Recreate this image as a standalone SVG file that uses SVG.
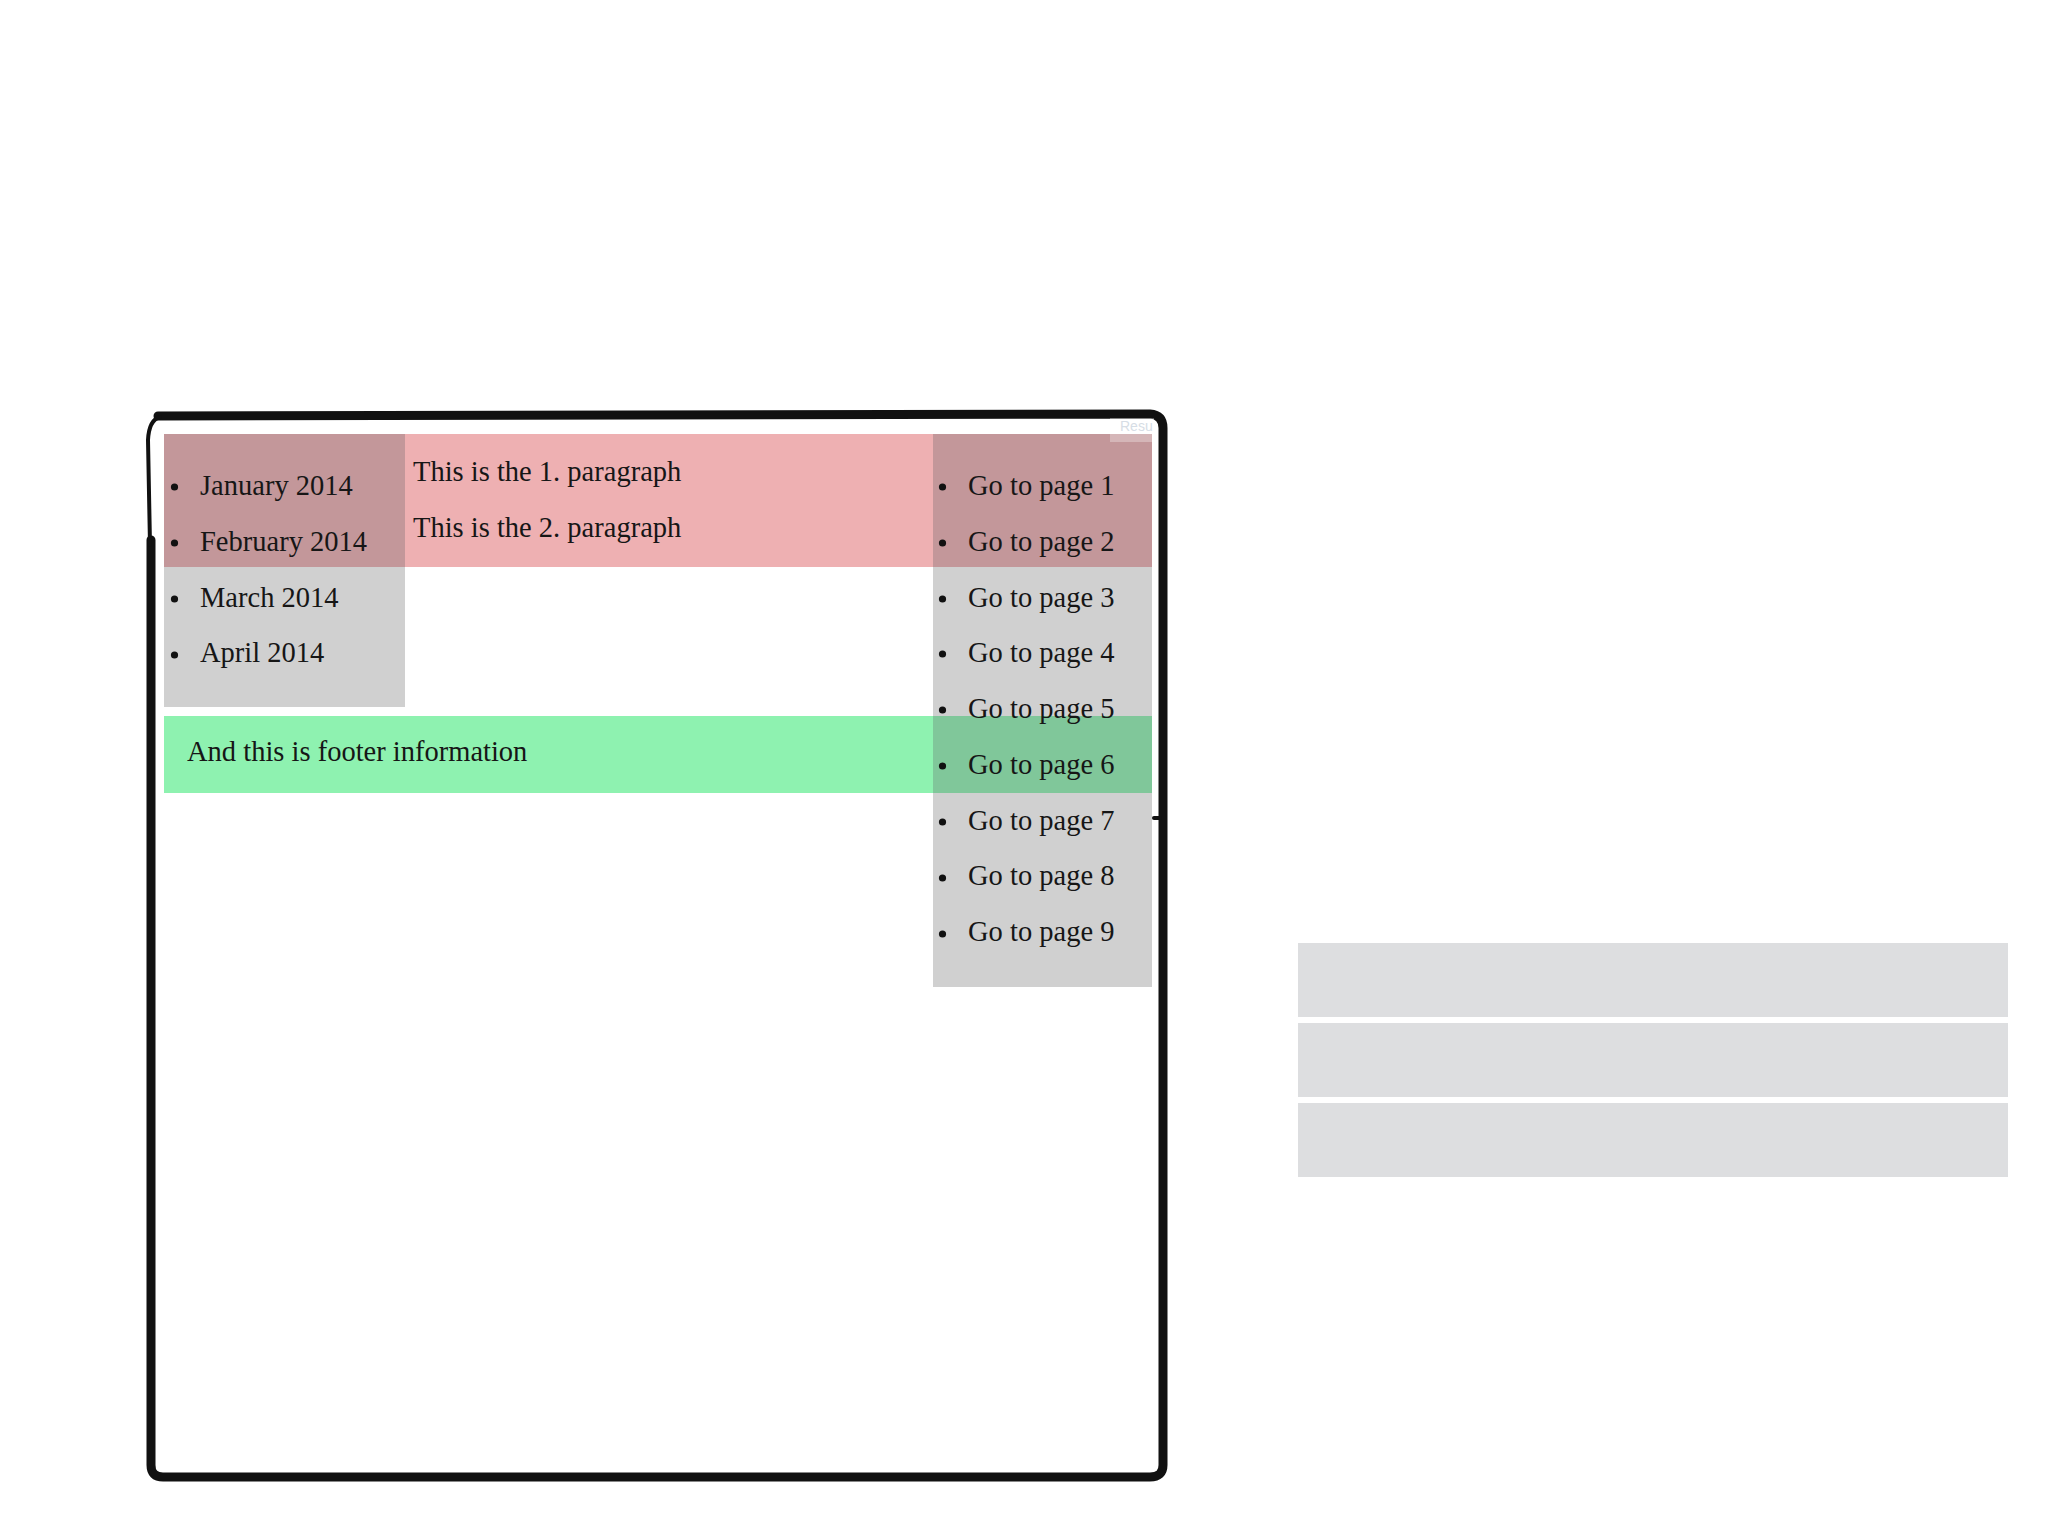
<svg xmlns="http://www.w3.org/2000/svg" width="2048" height="1536" viewBox="0 0 2048 1536">
<style>
.t{font-family:"Liberation Serif","Times New Roman",serif;font-size:28.5px;fill:#161616}
.pink{fill:#EEB0B2}
.gray{fill:#D0D0D0}
.dpink{fill:#C3979A}
.green{fill:#8EF2B0}
.dgreen{fill:#80C79A}
.bar{fill:#DDDEE0}
.frame{fill:none;stroke:#111;stroke-linecap:round;stroke-linejoin:round}
</style>
<rect width="2048" height="1536" fill="#fff"/>
<g id="frame">
<path class="frame" d="M158,416 L1150,414 Q1163,415 1163,428 L1163,1465 Q1163,1477 1150,1477 L163,1477 Q151,1477 151,1465 L151,540" stroke-width="9"/>
<path class="frame" d="M150,545 L148,440 Q149,420 160,417" stroke-width="4"/>
<path class="frame" d="M1154,818 L1160,818" stroke-width="4"/>
</g>
<g id="header">
<rect class="pink" x="164" y="434" width="988" height="133"/>
<text class="t" x="413" y="481">This is the 1. paragraph</text>
<text class="t" x="413" y="537">This is the 2. paragraph</text>
</g>
<g id="footer">
<rect class="green" x="164" y="716" width="988" height="77"/>
<text class="t" x="187" y="761">And this is footer information</text>
</g>
<g id="months">
<rect class="gray" x="164" y="434" width="241" height="273"/>
<rect class="dpink" x="164" y="434" width="241" height="133"/>
<g fill="#111"><circle cx="174.5" cy="487" r="3.6"/><circle cx="174.5" cy="543" r="3.6"/><circle cx="174.5" cy="599" r="3.6"/><circle cx="174.5" cy="655" r="3.6"/></g>
<text class="t" x="200" y="495">January 2014</text>
<text class="t" x="200" y="551">February 2014</text>
<text class="t" x="200" y="607">March 2014</text>
<text class="t" x="200" y="662">April 2014</text>
</g>
<g id="pages">
<rect class="gray" x="933" y="434" width="219" height="553"/>
<rect class="dpink" x="933" y="434" width="219" height="133"/>
<rect class="dgreen" x="933" y="716" width="219" height="77"/>
<g fill="#111">
<circle cx="942.5" cy="487" r="3.6"/><circle cx="942.5" cy="543" r="3.6"/><circle cx="942.5" cy="599" r="3.6"/><circle cx="942.5" cy="654" r="3.6"/><circle cx="942.5" cy="710" r="3.6"/><circle cx="942.5" cy="766" r="3.6"/><circle cx="942.5" cy="822" r="3.6"/><circle cx="942.5" cy="878" r="3.6"/><circle cx="942.5" cy="934" r="3.6"/>
</g>
<text class="t" x="968" y="495">Go to page 1</text>
<text class="t" x="968" y="551">Go to page 2</text>
<text class="t" x="968" y="607">Go to page 3</text>
<text class="t" x="968" y="662">Go to page 4</text>
<text class="t" x="968" y="718">Go to page 5</text>
<text class="t" x="968" y="774">Go to page 6</text>
<text class="t" x="968" y="830">Go to page 7</text>
<text class="t" x="968" y="885">Go to page 8</text>
<text class="t" x="968" y="941">Go to page 9</text>
</g>
<g id="result-tab">
<rect x="1110" y="418" width="44" height="24" fill="#fff" opacity="0.3"/>
<text x="1120" y="431" font-family="'Liberation Sans',Arial,sans-serif" font-size="14" fill="#D6DDE5">Resu</text>
</g>
<g id="bars">
<rect class="bar" x="1298" y="943" width="710" height="74"/>
<rect class="bar" x="1298" y="1023" width="710" height="74"/>
<rect class="bar" x="1298" y="1103" width="710" height="74"/>
</g>
</svg>
